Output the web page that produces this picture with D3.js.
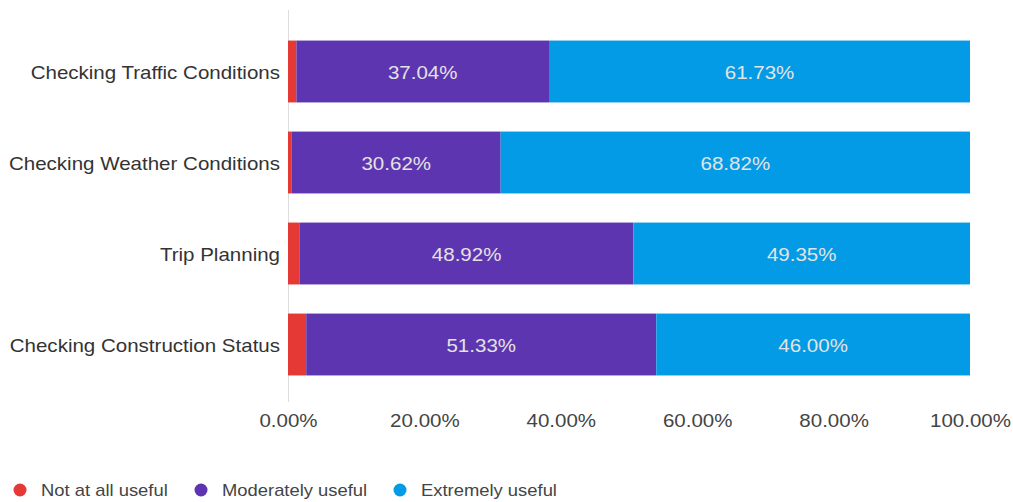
<!DOCTYPE html>
<html>
<head>
<meta charset="utf-8">
<script src="https://cdn.jsdelivr.net/npm/d3@7"></script>
<style>
  body { margin: 0; background: #fff; font-family: "Liberation Sans", Arial, sans-serif; }
  .axis path, .axis line { display: none; }
</style>
</head>
<body>
<svg width="1013" height="502"></svg>
<script>
const categories = ["Checking Traffic Conditions", "Checking Weather Conditions", "Trip Planning", "Checking Construction Status"];
const seriesNames = ["Not at all useful", "Moderately useful", "Extremely useful"];
const notUseful = [1.23, 0.56, 1.73, 2.67];
const moderately = [37.04, 30.62, 48.92, 51.33];
const extremely = [61.73, 68.82, 49.35, 46.00];
const colors = ["#e53935", "#5e35b1", "#039be5"];
const xTicks = [0, 20, 40, 60, 80, 100];

// the original text renders a bit wider than Liberation Sans
const stretch = 1.14;

const svg = d3.select("svg");
const margin = {top: 26, right: 43, bottom: 112, left: 288};
const width = 1013 - margin.left - margin.right;
const height = 502 - margin.top - margin.bottom;

const rows = categories.map((c, i) => ({cat: c, vals: [notUseful[i], moderately[i], extremely[i]]}));

const x = d3.scaleLinear().domain([0, 100]).range([0, width]);
const y = d3.scaleBand().domain(categories).range([0, height]).paddingInner(0.32).paddingOuter(0.16);

const g = svg.append("g").attr("transform", `translate(${margin.left}, ${margin.top})`);

// left baseline
g.append("line")
  .attr("x1", 0.5).attr("x2", 0.5)
  .attr("y1", -16).attr("y2", height + 12)
  .attr("stroke", "#ddd");

const rowG = g.selectAll(".row")
  .data(rows)
  .enter().append("g")
  .attr("class", "row")
  .attr("transform", d => `translate(0, ${y(d.cat)})`);

rowG.each(function(d) {
  let acc = 0;
  const segs = d.vals.map((v, j) => {
    const s = {start: acc, val: v, j: j};
    acc += v;
    return s;
  });
  const sel = d3.select(this);
  sel.selectAll("rect")
    .data(segs)
    .enter().append("rect")
    .attr("x", s => x(s.start))
    .attr("y", 0)
    .attr("width", s => x(s.start + s.val) - x(s.start))
    .attr("height", y.bandwidth())
    .attr("fill", s => colors[s.j]);
  sel.selectAll("text")
    .data(segs.filter(s => s.val > 10))
    .enter().append("text")
    .attr("transform", s => `translate(${x(s.start + s.val / 2)}, ${y.bandwidth() / 2 + 1}) scale(${stretch}, 1)`)
    .attr("dy", "0.35em")
    .attr("text-anchor", "middle")
    .attr("fill", "#e3e3e3")
    .attr("font-size", 18)
    .text(s => s.val.toFixed(2) + "%");
});

const yAxis = g.append("g")
  .attr("class", "axis")
  .call(d3.axisLeft(y).tickSize(0).tickPadding(8));
yAxis.selectAll("text")
  .attr("x", -8 / stretch)
  .attr("y", 2)
  .attr("transform", `scale(${stretch}, 1)`)
  .attr("font-size", 18)
  .attr("font-family", "Liberation Sans, Arial, sans-serif")
  .attr("fill", "#333");

const xAxis = g.append("g")
  .attr("class", "axis")
  .attr("transform", `translate(0, ${height})`)
  .call(d3.axisBottom(x).tickValues(xTicks).tickSize(0).tickPadding(24).tickFormat(d => d.toFixed(2) + "%"));
xAxis.selectAll("text")
  .attr("transform", `scale(${stretch}, 1)`)
  .attr("font-size", 18)
  .attr("font-family", "Liberation Sans, Arial, sans-serif")
  .attr("fill", "#444");

const legendX = [20, 201, 400];
const legend = svg.append("g").attr("transform", "translate(0, 490)");
const li = legend.selectAll("g")
  .data(seriesNames)
  .enter().append("g")
  .attr("transform", (d, i) => `translate(${legendX[i]}, 0)`);
li.append("circle").attr("r", 6.5).attr("fill", (d, i) => colors[i]);
li.append("text")
  .attr("transform", "translate(21, 0) scale(1.15, 1)")
  .attr("dy", "0.35em")
  .attr("font-size", 16)
  .attr("fill", "#444")
  .text(d => d);
</script>
</body>
</html>
